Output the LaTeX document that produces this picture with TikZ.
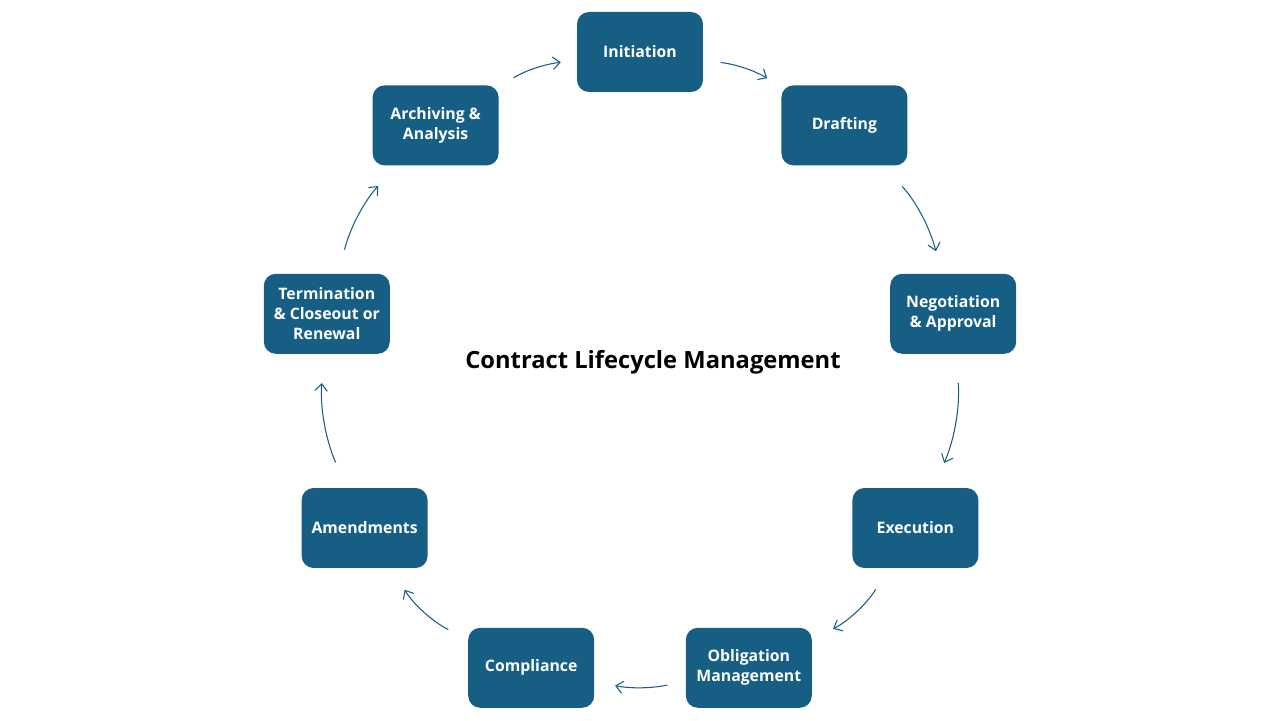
\documentclass[tikz,border=0pt]{standalone}
\usepackage{fontspec}
\setmainfont{Open Sans}
\usepackage{tikz}
\usetikzlibrary{arrows.meta}
\definecolor{clmteal}{HTML}{165E83}

\begin{document}
\begin{tikzpicture}[x=0.02cm,y=0.02cm,
  stage/.style={fill=clmteal,rounded corners=0.24cm,minimum width=2.52cm,
    minimum height=1.6cm,inner sep=0pt,text=white,align=center,
    font=\bfseries\fontsize{9}{11.4}\selectfont},
  flow/.style={draw=clmteal,line width=0.6pt,
    -{Straight Barb[length=4pt,width=7pt]}}]
  \useasboundingbox (0,0) rectangle (1280,720);
  % stages round the cycle
  \node[stage] (init) at (640,668) {Initiation};
  \node[stage] (draft) at (844.4,594.6) {Drafting};
  \node[stage] (nego) at (953.2,406.2) {Negotiation\\\& Approval};
  \node[stage] (exec) at (915.4,192) {Execution};
  \node[stage] (oblig) at (748.8,52.2) {Obligation\\Management};
  \node[stage] (compl) at (531.2,52.2) {Compliance};
  \node[stage] (amend) at (364.6,192) {Amendments};
  \node[stage] (term) at (326.8,406.2) {Termination\\\& Closeout or\\Renewal};
  \node[stage] (arch) at (435.6,594.6) {Archiving \&\\Analysis};
  \node[font=\bfseries\fontsize{13.5}{16}\selectfont] (title) at (653,358) {Contract Lifecycle Management};
  % arrows
  \draw[flow,shorten <=0.34cm,shorten >=0.32cm] (arch) to[bend left=12] (init);
  \draw[flow,shorten <=0.35cm,shorten >=0.32cm] (init) to[bend left=12] (draft);
  \draw[flow,shorten <=0.56cm,shorten >=0.46cm] (draft) to[bend left=14] (nego);
  \draw[flow,shorten <=0.58cm,shorten >=0.54cm] (nego) to[bend left=14] (exec);
  \draw[flow,shorten <=0.49cm,shorten >=0.47cm] (exec) to[bend left=16] (oblig);
  \draw[flow,shorten <=0.37cm,shorten >=0.42cm] (oblig) to[bend left=12] (compl);
  \draw[flow,shorten <=0.44cm,shorten >=0.5cm] (compl) to[bend left=16] (amend);
  \draw[flow,shorten <=0.55cm,shorten >=0.58cm] (amend) to[bend left=14] (term);
  \draw[flow,shorten <=0.49cm,shorten >=0.55cm] (term) to[bend left=14] (arch);
\end{tikzpicture}
\end{document}
